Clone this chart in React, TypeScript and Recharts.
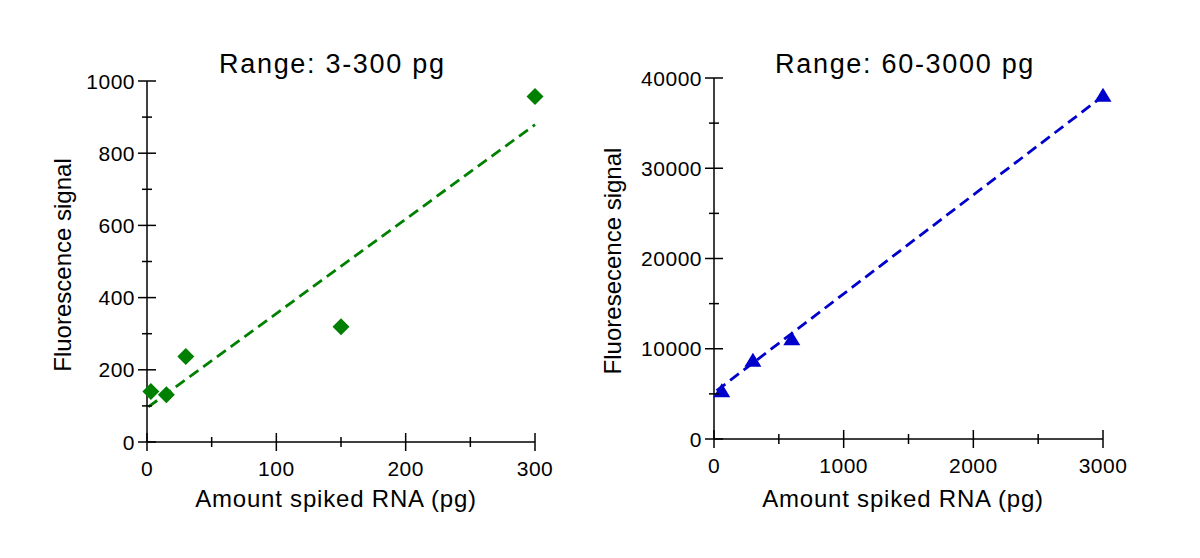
import React from 'react';
import { ScatterChart, Scatter, XAxis, YAxis } from 'recharts';

// Range 3-300 pg
const lowAmount = [3, 15, 30, 150, 300];
const lowSignal = [140, 131, 237, 319, 957];
const lowFitAmount = [1, 300];
const lowFitSignal = [97, 879];
const lowXLabels = [0, 100, 200, 300];
const lowXMinor = [50, 150, 250];
const lowYLabels = [0, 200, 400, 600, 800, 1000];
const lowYMinor = [100, 300, 500, 700, 900];

// Range 60-3000 pg
const highAmount = [60, 300, 600, 3000];
const highSignal = [5300, 8660, 11060, 38040];
const highFitAmount = [20, 3000];
const highFitSignal = [5350, 38000];
const highXLabels = [0, 1000, 2000, 3000];
const highXMinor = [500, 1500, 2500];
const highYLabels = [0, 10000, 20000, 30000, 40000];
const highYMinor = [5000, 15000, 25000, 35000];

const GREEN = '#008000';
const BLUE = '#0000CC';
const FONT = '"Liberation Sans", Arial, sans-serif';

const toPoints = (xs: number[], ys: number[]) => xs.map((x, i) => ({ x, y: ys[i] }));

const makeYTick = (labels: number[]) => (props: any) => {
  const { x, y, payload } = props;
  const major = labels.includes(payload.value);
  const len = major ? 9 : 5;
  return (
    <g>
      <line x1={x - len} x2={x + len} y1={y} y2={y} stroke="#000" strokeWidth={1.5} />
      {major && (
        <text x={x - 12} y={y + 7.5} textAnchor="end" fontFamily={FONT} fontSize={21} letterSpacing={0.5} fill="#000">
          {payload.value}
        </text>
      )}
    </g>
  );
};

const makeXTick = (labels: number[]) => (props: any) => {
  const { x, y, payload } = props;
  const major = labels.includes(payload.value);
  const len = major ? 9 : 5;
  return (
    <g>
      <line x1={x} x2={x} y1={y - len} y2={y + len} stroke="#000" strokeWidth={1.5} />
      {major && (
        <text x={x} y={y + 34} textAnchor="middle" fontFamily={FONT} fontSize={21} letterSpacing={0.5} fill="#000">
          {payload.value}
        </text>
      )}
    </g>
  );
};

const Diamond = (props: any) => {
  const { cx, cy } = props;
  const r = 8.5;
  return <polygon points={`${cx},${cy - r} ${cx + r},${cy} ${cx},${cy + r} ${cx - r},${cy}`} fill={GREEN} />;
};

const Triangle = (props: any) => {
  const { cx, cy } = props;
  return <polygon points={`${cx},${cy - 8} ${cx + 8.5},${cy + 6} ${cx - 8.5},${cy + 6}`} fill={BLUE} />;
};

const NoDot = () => <g />;

const axisLine = { stroke: '#000', strokeWidth: 1.5 };

interface PanelProps {
  left: number;
  title: string;
  titleX: number;
  yTitle: string;
  yTitleX: number;
  yTitleY: number;
  xTitleX: number;
  yAxisWidth: number;
  top: number;
  right: number;
  xDomain: number[];
  yDomain: number[];
  xLabels: number[];
  xMinor: number[];
  yLabels: number[];
  yMinor: number[];
  points: { x: number; y: number }[];
  fit: { x: number; y: number }[];
  color: string;
  shape: any;
}

function Panel(p: PanelProps) {
  const xTicks = [...p.xLabels, ...p.xMinor].sort((a, b) => a - b);
  const yTicks = [...p.yLabels, ...p.yMinor].sort((a, b) => a - b);
  return (
    <div style={{ position: 'absolute', left: p.left, top: 0 }}>
      <ScatterChart width={600} height={558} margin={{ top: p.top, right: p.right, left: 0, bottom: 0 }}>
        <XAxis
          type="number"
          dataKey="x"
          domain={p.xDomain}
          ticks={xTicks}
          interval={0}
          tickSize={0}
          tickMargin={0}
          tickLine={false}
          axisLine={axisLine}
          tick={makeXTick(p.xLabels)}
          height={558 - 442 - p.top + 81}
        />
        <YAxis
          type="number"
          dataKey="y"
          domain={p.yDomain}
          ticks={yTicks}
          interval={0}
          tickSize={0}
          tickMargin={0}
          tickLine={false}
          axisLine={axisLine}
          tick={makeYTick(p.yLabels)}
          width={p.yAxisWidth}
        />
        <Scatter
          data={p.fit}
          line={{ stroke: p.color, strokeWidth: 2.8, strokeDasharray: '11 6' }}
          shape={NoDot}
          isAnimationActive={false}
        />
        <Scatter data={p.points} shape={p.shape} fill={p.color} isAnimationActive={false} />
        <text x={p.titleX} y={73} fontFamily={FONT} fontSize={27} letterSpacing={1.7} fill="#000">
          {p.title}
        </text>
        <text x={p.xTitleX} y={507} textAnchor="middle" fontFamily={FONT} fontSize={24} letterSpacing={0.8} fill="#000">
          Amount spiked RNA (pg)
        </text>
        <text
          x={p.yTitleX}
          y={p.yTitleY}
          transform={`rotate(-90 ${p.yTitleX} ${p.yTitleY})`}
          textAnchor="middle"
          fontFamily={FONT}
          fontSize={24}
          fill="#000"
        >
          {p.yTitle}
        </text>
      </ScatterChart>
    </div>
  );
}

export default function App() {
  return (
    <div style={{ position: 'absolute', left: 0, top: 0, width: 1200, height: 558, background: '#fff' }}>
      <Panel
        left={0}
        title="Range: 3-300 pg"
        titleX={219}
        yTitle="Fluorescence signal"
        yTitleX={71}
        yTitleY={265}
        xTitleX={336}
        yAxisWidth={147}
        top={81}
        right={65}
        xDomain={[0, 300]}
        yDomain={[0, 1000]}
        xLabels={lowXLabels}
        xMinor={lowXMinor}
        yLabels={lowYLabels}
        yMinor={lowYMinor}
        points={toPoints(lowAmount, lowSignal)}
        fit={toPoints(lowFitAmount, lowFitSignal)}
        color={GREEN}
        shape={Diamond}
      />
      <Panel
        left={600}
        title="Range: 60-3000 pg"
        titleX={175}
        yTitle="Fluoresecence signal"
        yTitleX={21}
        yTitleY={261}
        xTitleX={303}
        yAxisWidth={114}
        top={78}
        right={97}
        xDomain={[0, 3000]}
        yDomain={[0, 40000]}
        xLabels={highXLabels}
        xMinor={highXMinor}
        yLabels={highYLabels}
        yMinor={highYMinor}
        points={toPoints(highAmount, highSignal)}
        fit={toPoints(highFitAmount, highFitSignal)}
        color={BLUE}
        shape={Triangle}
      />
    </div>
  );
}
